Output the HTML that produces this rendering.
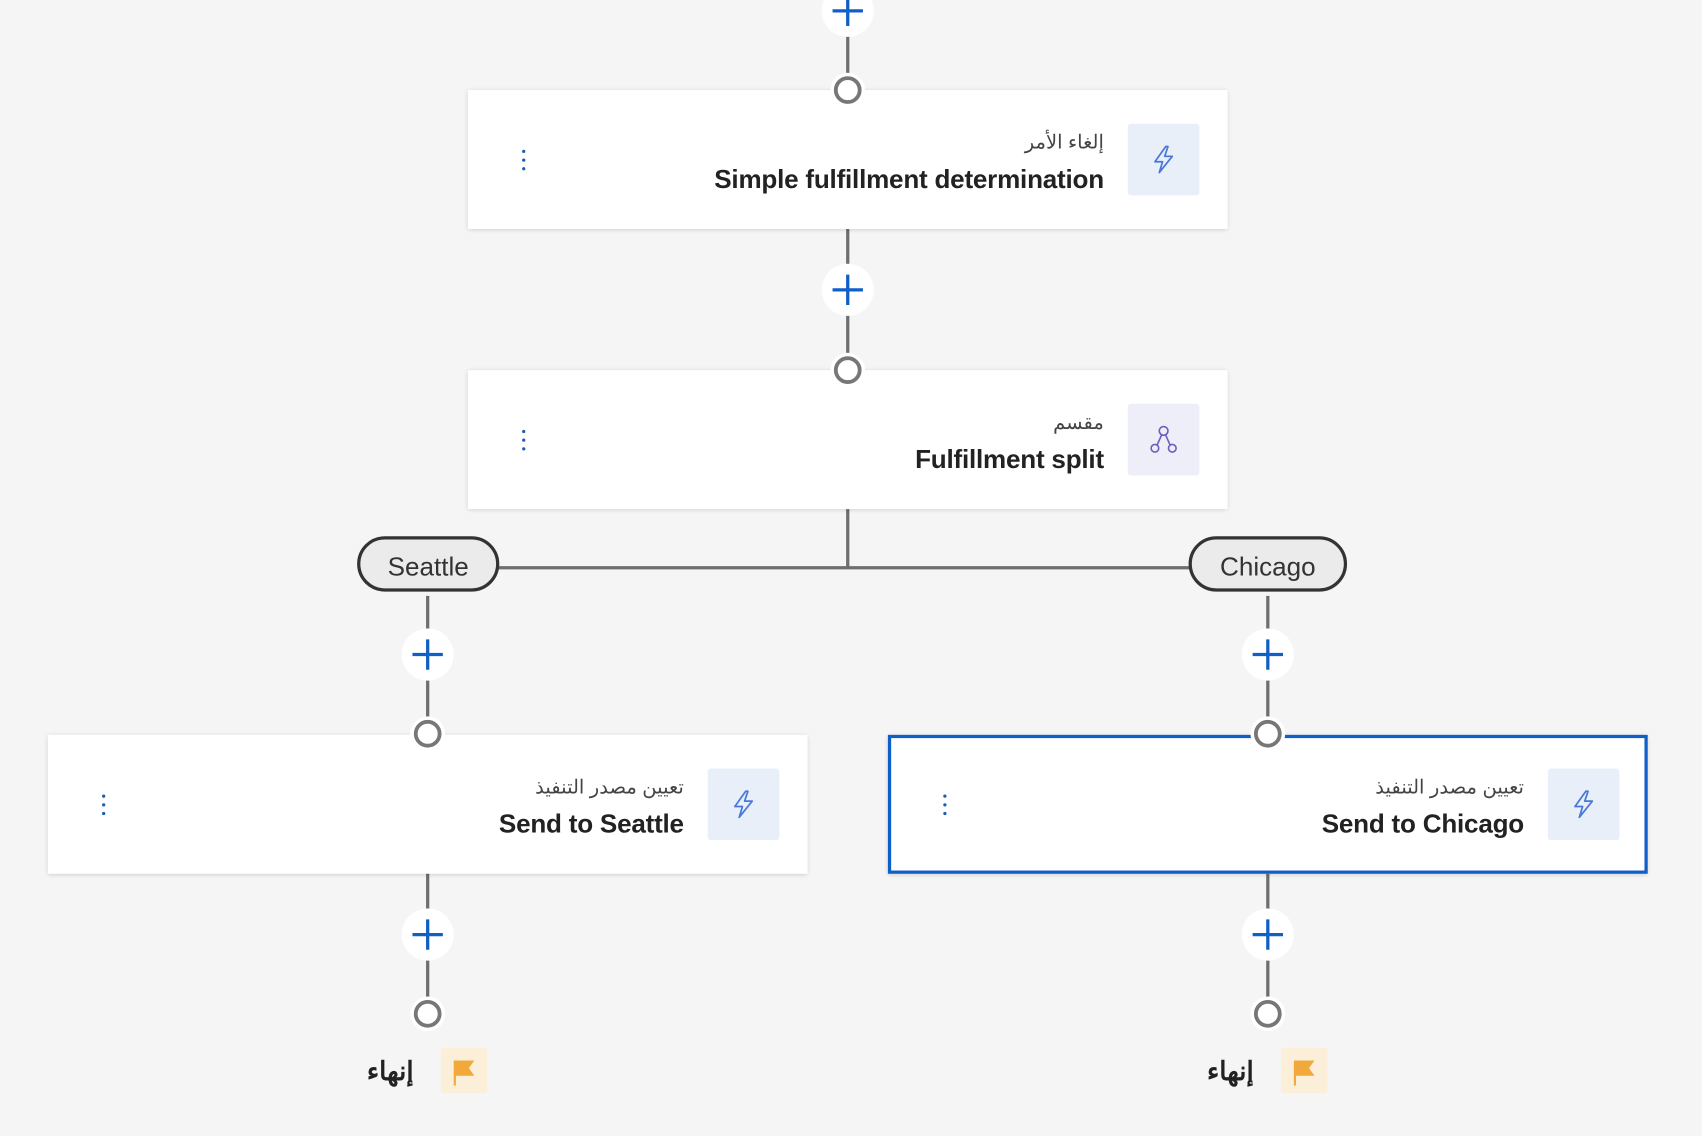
<!DOCTYPE html>
<html><head><meta charset="utf-8"><style>
html,body{margin:0;padding:0;background:#f5f5f5;width:1702px;height:1136px;overflow:hidden}
#w{position:absolute;left:0;top:0;width:1568px;height:1047px;transform:scale(1.08546);transform-origin:0 0;font-family:"Liberation Sans","Noto Sans CJK SC",sans-serif}
.card{position:absolute;background:#fff;box-shadow:0 1px 4px rgba(0,0,0,.18);box-sizing:border-box}
.card .ic{position:absolute;right:26px;top:31px;width:66px;height:66px;border-radius:3px;background:#e8eff8;display:flex;align-items:center;justify-content:center}
.card .sub{position:absolute;right:114px;top:38px;font-size:18px;color:#444;direction:rtl}
.card .ttl{position:absolute;right:114px;top:69px;font-size:24px;font-weight:bold;color:#222;white-space:nowrap;letter-spacing:-0.2px}
.dots{position:absolute;left:50px;top:55px;width:4px}
.dots i{display:block;width:3px;height:3px;background:#1a5fb4;border-radius:50%;margin-bottom:5px}
svg{position:absolute;left:0;top:0}
.pill{position:absolute;height:51px;padding-top:6px;border:3px solid #333;border-radius:28px;background:#ebebeb;box-sizing:border-box;font-size:24px;color:#333;display:flex;align-items:center;justify-content:center}
.end{position:absolute;font-size:24px;font-weight:bold;color:#222;direction:rtl}
.flag{position:absolute;width:43px;height:42px;background:#fcefd9;border-radius:3px}
</style></head><body><div id="w">
<svg width="1568" height="1047">
<g stroke="#6e6e6e" stroke-width="3" fill="none">
<line x1="781" y1="0" x2="781" y2="341"/>
<line x1="781" y1="469" x2="781" y2="523"/>
<line x1="459" y1="523" x2="1097" y2="523"/>
<line x1="394" y1="549" x2="394" y2="934"/>
<line x1="1168" y1="549" x2="1168" y2="934"/>
</g></svg>
<div class="card" style="left:431px;top:83px;width:700px;height:128px">
<div class="dots"><i></i><i></i><i></i></div>
<div class="sub">إلغاء الأمر</div><div class="ttl">Simple fulfillment determination</div>
<div class="ic"><svg style="position:static" width="24" height="28" viewBox="0 0 24 28"><path d="M14 2 L4 16 H11 L8 26 L20 11 H13 L16 2 Z" fill="none" stroke="#4a78d8" stroke-width="1.6" stroke-linejoin="round"/></svg></div></div>
<div class="card" style="left:431px;top:341px;width:700px;height:128px">
<div class="dots"><i></i><i></i><i></i></div>
<div class="sub">مقسم</div><div class="ttl">Fulfillment split</div>
<div class="ic" style="background:#eeeef8"><svg style="position:static" width="28" height="28" viewBox="0 0 28 28"><g fill="none" stroke="#6a5fc0" stroke-width="1.5"><circle cx="14" cy="6" r="4"/><circle cx="6" cy="22" r="3.5"/><circle cx="22" cy="22" r="3.5"/><path d="M12 10 L8 19 M16 10 L20 19"/></g></svg></div></div>
<div class="card" style="left:44px;top:677px;width:700px;height:128px">
<div class="dots"><i></i><i></i><i></i></div>
<div class="sub">تعيين مصدر التنفيذ</div><div class="ttl">Send to Seattle</div>
<div class="ic"><svg style="position:static" width="24" height="28" viewBox="0 0 24 28"><path d="M14 2 L4 16 H11 L8 26 L20 11 H13 L16 2 Z" fill="none" stroke="#4a78d8" stroke-width="1.6" stroke-linejoin="round"/></svg></div></div>
<div class="card" style="left:818px;top:677px;width:700px;height:128px;border:3px solid #0f5fc9">
<div class="dots" style="left:48px;top:52px"><i></i><i></i><i></i></div>
<div class="sub" style="right:111px;top:35px">تعيين مصدر التنفيذ</div><div class="ttl" style="right:111px;top:66px">Send to Chicago</div>
<div class="ic" style="right:23px;top:28px"><svg style="position:static" width="24" height="28" viewBox="0 0 24 28"><path d="M14 2 L4 16 H11 L8 26 L20 11 H13 L16 2 Z" fill="none" stroke="#4a78d8" stroke-width="1.6" stroke-linejoin="round"/></svg></div></div>
<div class="pill" style="left:329px;top:494px;width:131px">Seattle</div>
<div class="pill" style="left:1095px;top:494px;width:146px">Chicago</div>
<svg width="1568" height="1047">
<defs>
<g id="plus"><circle r="24" fill="#fff"/><path d="M-14 0 H14 M0 -14 V14" stroke="#0f5fc9" stroke-width="3"/></g>
<g id="node"><circle r="16" fill="#fff"/><circle r="11" fill="#fff" stroke="#777" stroke-width="3.5"/></g>
</defs>
<use href="#plus" x="781" y="10"/><use href="#plus" x="781" y="267"/>
<use href="#node" x="781" y="83"/><use href="#node" x="781" y="341"/>
<use href="#plus" x="394" y="603"/><use href="#node" x="394" y="676"/>
<use href="#plus" x="394" y="861"/><use href="#node" x="394" y="934"/>
<use href="#plus" x="1168" y="603"/><use href="#node" x="1168" y="676"/>
<use href="#plus" x="1168" y="861"/><use href="#node" x="1168" y="934"/>
</svg>
<div class="flag" style="left:406px;top:965px"><svg style="position:static" width="43" height="42"><path d="M12 12 H31 L26 19 L31 26 H14 V35 H12 Z" fill="#f0a93a"/></svg></div>
<div class="end" style="left:338px;top:973px">إنهاء</div>
<div class="flag" style="left:1180px;top:965px"><svg style="position:static" width="43" height="42"><path d="M12 12 H31 L26 19 L31 26 H14 V35 H12 Z" fill="#f0a93a"/></svg></div>
<div class="end" style="left:1112px;top:973px">إنهاء</div>
</div></body></html>
